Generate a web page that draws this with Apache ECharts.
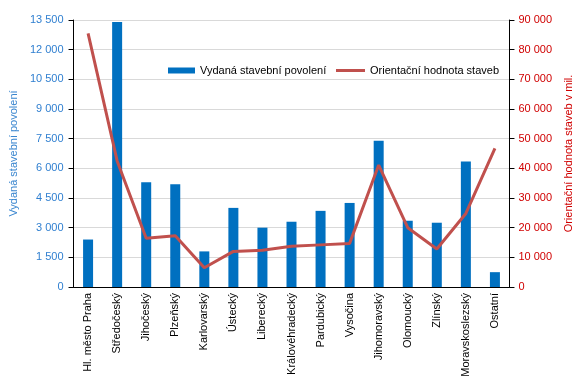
<html>
<head>
<meta charset="utf-8">
<title>Stavební povolení podle krajů</title>
<script src="https://cdn.jsdelivr.net/npm/echarts@6/dist/echarts.min.js"></script>
<style>
	body { margin: 0; background: #fff; }
</style>
</head>
<body>
	<div id="main" style="width: 582px; height: 388px;"></div>
	<script type="text/javascript">
		// kraje
		var regions = ['Hl. město Praha', 'Středočeský', 'Jihočeský', 'Plzeňský', 'Karlovarský',
			'Ústecký', 'Liberecký', 'Královéhradecký', 'Pardubický', 'Vysočina',
			'Jihomoravský', 'Olomoucký', 'Zlínský', 'Moravskoslezský', 'Ostatní'];
		// vydaná stavební povolení (levá osa)
		var permits = [2400, 13400, 5300, 5200, 1800, 4000, 3000, 3300, 3850, 4250, 7400, 3350, 3250, 6350, 750];
		// orientační hodnota staveb v mil. (pravá osa)
		var values = [85500, 42500, 16400, 17300, 6500, 12000, 12400, 13700, 14200, 14700, 41100, 20000, 12800, 24800, 46700];

		function fmt(v) {
			return String(v).replace(/\B(?=(\d{3})+(?!\d))/g, ' ');
		}

		var legendText = { fontSize: 11, color: '#000', fontFamily: 'Liberation Sans' };

		var myChart = echarts.init(document.getElementById('main'));
		myChart.setOption({
			animation: false,
			textStyle: { fontFamily: 'Liberation Sans' },
			// dvě legendy, aby každá měla vlastní výšku ikony
			legend: [
				{
					top: 60,
					left: 163,
					itemWidth: 27,
					itemHeight: 6,
					itemGap: 3,
					textStyle: legendText,
					data: [{ name: 'Vydaná stavební povolení', icon: 'rect' }]
				},
				{
					top: 60,
					left: 331,
					itemWidth: 29,
					itemHeight: 3,
					textStyle: legendText,
					data: [{ name: 'Orientační hodnota staveb', icon: 'rect', itemStyle: { color: '#c0504d' } }]
				}
			],
			grid: { left: 70, right: 62, top: 20, bottom: 101 },
			xAxis: {
				type: 'category',
				data: regions,
				axisLine: { lineStyle: { color: '#000' } },
				axisTick: { length: 5, lineStyle: { color: '#000' } },
				axisLabel: { rotate: 90, interval: 0, color: '#000', fontSize: 11, margin: 6 }
			},
			yAxis: [
				{
					type: 'value',
					min: 0, max: 13500, interval: 1500,
					name: 'Vydaná stavební povolení',
					nameLocation: 'middle',
					nameGap: 50,
					nameTextStyle: { color: '#3a86cf', fontSize: 11 },
					axisLine: { show: true, lineStyle: { color: '#000' } },
					axisTick: { show: true, length: 5, lineStyle: { color: '#000' } },
					axisLabel: { color: '#2f7fd0', fontSize: 11, margin: 10, formatter: fmt },
					splitLine: { lineStyle: { color: '#d9d9d9' } }
				},
				{
					type: 'value',
					position: 'right',
					min: 0, max: 90000, interval: 10000,
					name: 'Orientační hodnota staveb v mil.',
					nameLocation: 'middle',
					nameGap: 44,
					nameRotate: 90,
					nameTextStyle: { color: '#d00000', fontSize: 11 },
					axisLine: { show: true, lineStyle: { color: '#000' } },
					axisTick: { show: true, length: 5, lineStyle: { color: '#000' } },
					axisLabel: { color: '#d00000', fontSize: 11, margin: 9, formatter: fmt },
					splitLine: { show: false }
				}
			],
			series: [
				{
					name: 'Vydaná stavební povolení',
					type: 'bar',
					barWidth: 10,
					itemStyle: { color: '#0070c0' },
					data: permits
				},
				{
					name: 'Orientační hodnota staveb',
					type: 'line',
					yAxisIndex: 1,
					symbol: 'none',
					lineStyle: { color: '#c0504d', width: 3 },
					itemStyle: { color: '#c0504d' },
					data: values
				}
			]
		});
	</script>
</body>
</html>
